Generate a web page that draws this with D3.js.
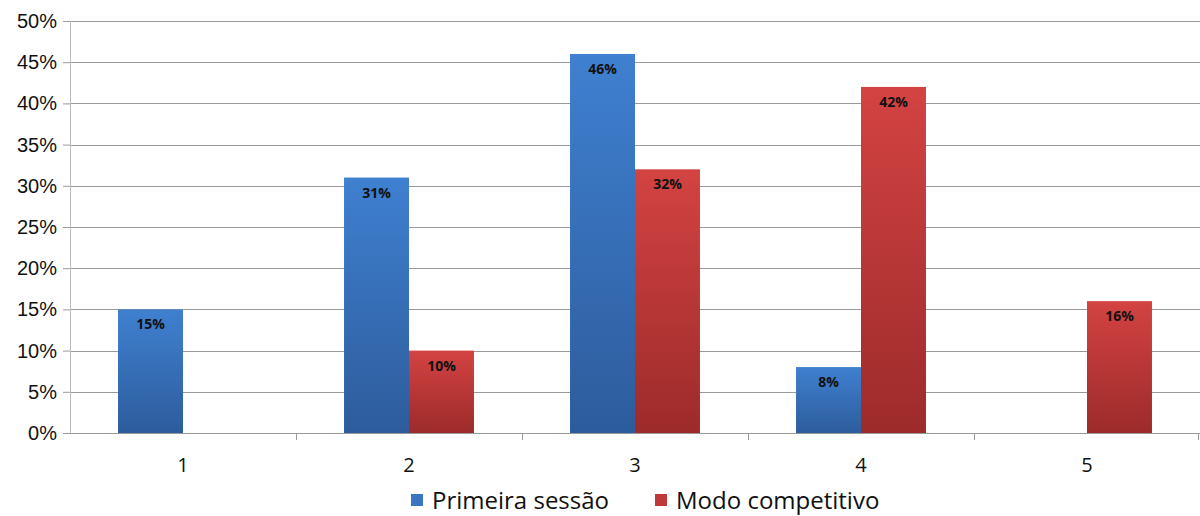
<!DOCTYPE html>
<html>
<head>
<meta charset="utf-8">
<script src="https://cdn.jsdelivr.net/npm/d3@7"></script>
<style>
  html, body { margin: 0; padding: 0; background: #fff; }
  svg { display: block; font-family: "Open Sans", "DejaVu Sans", sans-serif; }
</style>
</head>
<body>
<svg id="chart" width="1200" height="516"></svg>
<script>
// Share of answers per rating, for each session type
const categories = ["1", "2", "3", "4", "5"];
const seriesNames = ["Primeira sessão", "Modo competitivo"];
const primeiraSessao = [15, 31, 46, 8, 0];
const modoCompetitivo = [0, 10, 32, 42, 16];
const yTicks = [0, 5, 10, 15, 20, 25, 30, 35, 40, 45, 50];

const seriesValues = [primeiraSessao, modoCompetitivo];

const svg = d3.select("#chart");
const margin = { top: 21, right: 0, bottom: 83, left: 70 };
const width = 1200 - margin.left - margin.right;
const height = 516 - margin.top - margin.bottom;

const defs = svg.append("defs");
const gradients = [
  { id: "gradBlue", top: "#3f80d0", bottom: "#2d5c9c" },
  { id: "gradRed", top: "#d34342", bottom: "#9c2b2a" }
];
gradients.forEach(g => {
  const lg = defs.append("linearGradient")
    .attr("id", g.id).attr("x1", 0).attr("y1", 0).attr("x2", 0).attr("y2", 1);
  lg.append("stop").attr("offset", "0%").attr("stop-color", g.top);
  lg.append("stop").attr("offset", "100%").attr("stop-color", g.bottom);
});
const fills = ["url(#gradBlue)", "url(#gradRed)"];
const legendColors = ["#3a76c2", "#c0393a"];

const g = svg.append("g").attr("transform", `translate(${margin.left},${margin.top})`);

const x0 = d3.scaleBand().domain(categories).range([0, width])
  .paddingInner(0.425).paddingOuter(0.2125);
const x1 = d3.scaleBand().domain(d3.range(seriesNames.length)).range([0, x0.bandwidth()]);
const y = d3.scaleLinear().domain([0, 50]).range([height, 0]);

// Value axis with tick labels
const yAxis = d3.axisLeft(y).tickValues(yTicks).tickFormat(d => d + "%")
  .tickSize(7).tickPadding(6);
const yG = g.append("g").call(yAxis);
yG.select(".domain").remove();
yG.selectAll(".tick line").attr("stroke", "#9a9a9a");
yG.selectAll(".tick text").attr("font-size", 20).attr("fill", "#111");

// Horizontal gridlines
g.append("g").selectAll("line").data(yTicks.filter(d => d > 0)).join("line")
  .attr("x1", 0).attr("x2", width)
  .attr("y1", d => Math.round(y(d)) + 0.5).attr("y2", d => Math.round(y(d)) + 0.5)
  .attr("stroke", "#9a9a9a").attr("stroke-width", 1);

// Vertical axis line
g.append("line").attr("x1", 0.5).attr("x2", 0.5).attr("y1", 0).attr("y2", height)
  .attr("stroke", "#bdbdbd");

// Bars with value labels
const groups = g.append("g").selectAll("g").data(categories).join("g")
  .attr("transform", d => `translate(${x0(d)},0)`);

groups.each(function (cat, ci) {
  const grp = d3.select(this);
  seriesValues.forEach((vals, si) => {
    const v = vals[ci];
    if (!v) return;
    grp.append("rect")
      .attr("x", x1(si)).attr("width", x1.bandwidth())
      .attr("y", y(v)).attr("height", y(0) - y(v))
      .attr("fill", fills[si]);
    grp.append("text")
      .attr("x", x1(si) + x1.bandwidth() / 2)
      .attr("y", y(v) + 20)
      .attr("text-anchor", "middle")
      .attr("font-size", 14).attr("font-weight", "bold").attr("fill", "#111")
      .text(v + "%");
  });
});

// Category axis
const xG = g.append("g").attr("transform", `translate(0,${height})`);
xG.append("line").attr("x1", 0).attr("x2", width).attr("y1", 0.5).attr("y2", 0.5)
  .attr("stroke", "#9a9a9a");
const step = x0.step();
const boundaries = d3.range(1, categories.length + 1).map(i => i * step);
xG.selectAll(".bt").data(boundaries).join("line").attr("class", "bt")
  .attr("x1", d => Math.min(Math.round(d) + 0.5, width - 1.5))
  .attr("x2", d => Math.min(Math.round(d) + 0.5, width - 1.5))
  .attr("y1", 0).attr("y2", 7).attr("stroke", "#9a9a9a");
xG.selectAll(".cl").data(categories).join("text").attr("class", "cl")
  .attr("x", d => x0(d) + x0.bandwidth() / 2)
  .attr("y", 39)
  .attr("text-anchor", "middle").attr("font-size", 20).attr("fill", "#111")
  .text(d => d);

// Legend
const legend = svg.append("g").attr("transform", "translate(411,509)");
let lx = 0;
seriesNames.forEach((name, i) => {
  const item = legend.append("g").attr("transform", `translate(${lx},0)`);
  item.append("rect").attr("x", 0).attr("y", -15).attr("width", 12).attr("height", 12)
    .attr("fill", legendColors[i]);
  const t = item.append("text").attr("x", 21).attr("y", 0)
    .attr("font-size", 24).attr("fill", "#111").text(name);
  lx += 21 + t.node().getComputedTextLength() + 46;
});
</script>
</body>
</html>
